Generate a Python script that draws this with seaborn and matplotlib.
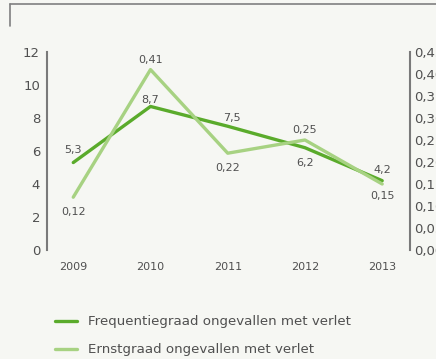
import matplotlib
matplotlib.use("Agg")
import matplotlib.pyplot as plt
import seaborn as sns
import pandas as pd
from matplotlib.lines import Line2D

years = [2009, 2010, 2011, 2012, 2013]
frequentie = [5.3, 8.7, 7.5, 6.2, 4.2]
ernst = [0.12, 0.41, 0.22, 0.25, 0.15]
left_ticks = [0, 2, 4, 6, 8, 10, 12]
right_ticks = [0.00, 0.05, 0.10, 0.15, 0.20, 0.25, 0.30, 0.35, 0.40, 0.45]
series_names = ["Frequentiegraad ongevallen met verlet", "Ernstgraad ongevallen met verlet"]

dark_green = "#5aab2b"
light_green = "#a7d282"
text_col = "#505050"
spine_col = "#7a7a7a"
bg = "#f6f7f3"

sns.set_theme(style="white")
plt.rcParams["font.family"] = ["Liberation Sans Narrow", "DejaVu Sans"]

df = pd.DataFrame({"jaar": years, "freq": frequentie, "ernst": ernst})

fig = plt.figure(figsize=(4.36, 3.59), dpi=100, facecolor=bg)
ax = fig.add_axes([47 / 436, 109 / 359, 363 / 436, 198 / 359])
ax.set_facecolor(bg)
ax2 = ax.twinx()

sns.lineplot(data=df, x="jaar", y="freq", ax=ax, color=dark_green, linewidth=2.4)
sns.lineplot(data=df, x="jaar", y="ernst", ax=ax2, color=light_green, linewidth=2.4)

ax.set_xlim(2009 - 0.34, 2013 + 0.36)
ax.set_ylim(0, 12)
ax2.set_ylim(0, 0.45)
ax.set_xticks(years)
ax.set_xticklabels([str(y) for y in years], fontsize=8, color=text_col)
ax.set_yticks(left_ticks)
ax.set_yticklabels([str(t) for t in left_ticks], fontsize=9.5, color=text_col)
ax2.set_yticks(right_ticks)
ax2.set_yticklabels([f"{t:.2f}".replace(".", ",") for t in right_ticks], fontsize=9.5, color=text_col)
for a in (ax, ax2):
    a.set_xlabel("")
    a.set_ylabel("")
    a.tick_params(axis="both", length=0, pad=5)
    for s in a.spines.values():
        s.set_visible(False)
ax.tick_params(axis="x", pad=9)
ax.spines["left"].set_visible(True)
ax.spines["left"].set_color(spine_col)
ax.spines["left"].set_linewidth(1.5)
ax2.spines["right"].set_visible(True)
ax2.spines["right"].set_color(spine_col)
ax2.spines["right"].set_linewidth(1.5)
ax2.tick_params(axis="y", pad=3)

fmt = lambda v: f"{v}".replace(".", ",")
# label offsets (points) from each point to the label centre
freq_off = [(0, 9), (0, 5), (3, 6), (0, -11), (0, 8)]
ernst_off = [(0, -11), (0, 7), (0, -11), (0, 7), (0, -9)]
for x, v, off in zip(years, frequentie, freq_off):
    ax.annotate(fmt(v), (x, v), xytext=off, textcoords="offset points",
                ha="center", va="center", fontsize=8, color=text_col)
for x, v, off in zip(years, ernst, ernst_off):
    ax2.annotate(fmt(v), (x, v), xytext=off, textcoords="offset points",
                 ha="center", va="center", fontsize=8, color=text_col)

# decorative frame line at the top
fig.add_artist(Line2D([10 / 436, 1.0], [1 - 4 / 359, 1 - 4 / 359], transform=fig.transFigure,
                      color="#808080", linewidth=1.2))
fig.add_artist(Line2D([10 / 436, 10 / 436], [1 - 4 / 359, 1 - 26 / 359], transform=fig.transFigure,
                      color="#808080", linewidth=1.2))

# legend
for i, (name, col) in enumerate(zip(series_names, [dark_green, light_green])):
    yy = 1 - (321 + 28 * i) / 359
    fig.add_artist(Line2D([55 / 436, 77 / 436], [yy, yy], transform=fig.transFigure,
                          color=col, linewidth=2.4))
    fig.text(88 / 436, yy, name, fontsize=9.6, color=text_col, va="center", ha="left")

fig.savefig("out.png", dpi=100, facecolor=bg)
